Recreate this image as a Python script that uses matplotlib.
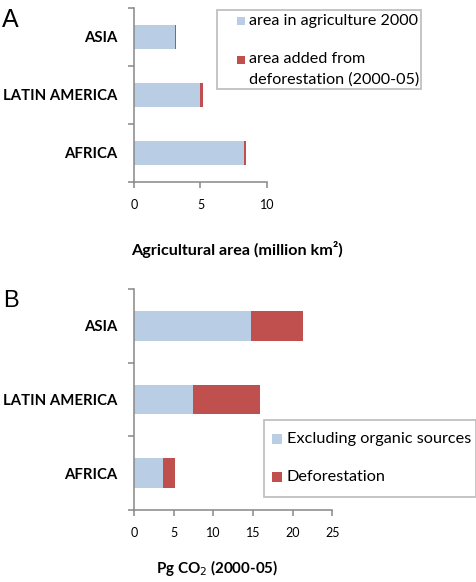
import matplotlib
matplotlib.use("Agg")
import matplotlib.pyplot as plt
from matplotlib.patches import Rectangle

plt.rcParams['font.family'] = ['Lato', 'DejaVu Sans']

regions = ['AFRICA', 'LATIN AMERICA', 'ASIA']

# panel A: agricultural area (million km2)
area_2000 = [8.28, 4.95, 3.08]
area_added = [0.12, 0.23, 0.10]

# panel B: Pg CO2 (2000-05)
co2_excl_organic = [3.65, 7.4, 14.7]
co2_deforest = [1.55, 8.5, 6.6]

BLUE = '#b9cde5'
RED = '#c0504d'
GRAY = '#878787'

W, H = 477, 582
fig = plt.figure(figsize=(W / 100, H / 100), dpi=100)


def px(x, y):
    return x / W, 1 - y / H


def make_axes(left, right, top, bottom):
    return fig.add_axes([left / W, 1 - bottom / H, (right - left) / W, (bottom - top) / H])


def style(ax, xmax, step):
    ax.set_xlim(0, xmax)
    ax.set_ylim(-0.5, 2.5)
    for s in ['top', 'right']:
        ax.spines[s].set_visible(False)
    for s in ['left', 'bottom']:
        ax.spines[s].set_color(GRAY)
        ax.spines[s].set_linewidth(1.1)
    ax.set_xticks(range(0, xmax + 1, step))
    ax.tick_params(axis='x', colors=GRAY, length=4, width=1.1, pad=8, labelsize=9,
                   labelcolor='black')
    ax.set_yticks(range(len(regions)))
    ax.set_yticklabels(regions, fontweight='bold', fontsize=10.7)
    ax.set_yticks([-0.5, 0.5, 1.5, 2.5], minor=True)
    ax.tick_params(axis='y', which='major', length=0, pad=12)
    ax.tick_params(axis='y', which='minor', colors=GRAY, length=4, width=1.1)


def legend_box(x0, x1, y0, y1):
    fig.patches.append(Rectangle(px(x0, y1), (x1 - x0) / W, (y1 - y0) / H,
                                 transform=fig.transFigure, facecolor='white',
                                 edgecolor='#c0c0c0', linewidth=1.3, zorder=5))


def legend_key(x, y, size_w, size_h, color):
    fig.patches.append(Rectangle(px(x, y + size_h), size_w / W, size_h / H,
                                 transform=fig.transFigure, facecolor=color,
                                 edgecolor='none', zorder=6))


# ---- panel A
axA = make_axes(134, 267, 8, 182)
axA.barh(range(3), area_2000, height=0.41, color=BLUE)
axA.barh(range(3), area_added, left=area_2000, height=0.41, color=RED)
style(axA, 10, 5)

legend_box(217, 421, 10, 89)
legend_key(237, 17, 8, 8, BLUE)
legend_key(237, 56, 8, 8, RED)
fig.text(*px(249, 21), 'area in agriculture 2000', fontsize=11.6, va='center', zorder=7)
fig.text(*px(249, 59), 'area added from', fontsize=11.6, va='center', zorder=7)
fig.text(*px(249, 80), 'deforestation (2000-05)', fontsize=11.6, va='center', zorder=7)

fig.text(*px(237, 250), 'Agricultural area (million km²)', fontsize=11.6,
         fontweight='bold', ha='center', va='center')
fig.text(*px(2, 20), 'A', fontsize=18, family='Liberation Sans', va='center')

# ---- panel B
axB = make_axes(134, 332.3, 289, 510)
axB.barh(range(3), co2_excl_organic, height=0.4, color=BLUE)
axB.barh(range(3), co2_deforest, left=co2_excl_organic, height=0.4, color=RED)
style(axB, 25, 5)

legend_box(264, 476, 420, 497)
legend_key(272, 434, 10, 10, BLUE)
legend_key(272, 472, 10, 10, RED)
fig.text(*px(287, 439), 'Excluding organic sources', fontsize=11.7, va='center', zorder=7)
fig.text(*px(287, 477), 'Deforestation', fontsize=11.7, va='center', zorder=7)

fig.text(*px(217, 568), 'Pg CO$_{2}$ (2000-05)', fontsize=10.9,
         fontweight='bold', ha='center', va='center')
fig.text(*px(3, 301), 'B', fontsize=17, family='Liberation Sans', va='center')

fig.savefig('out.png', dpi=100)
